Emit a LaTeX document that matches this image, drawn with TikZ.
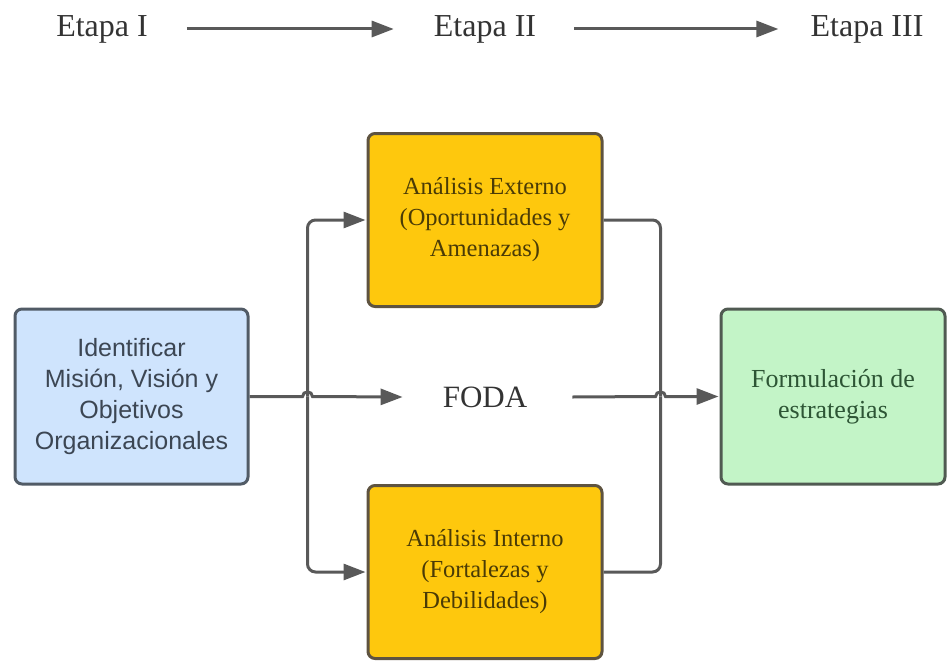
\documentclass[tikz,border=0pt]{standalone}
\usepackage{fontspec}
\setmainfont{Liberation Serif}
\newfontfamily\sansf{Liberation Sans}
\usetikzlibrary{arrows.meta,calc}
\definecolor{bluefill}{HTML}{CFE4FD}
\definecolor{blueline}{HTML}{515B66}
\definecolor{bluetext}{HTML}{3C4653}
\definecolor{yelfill}{HTML}{FEC80D}
\definecolor{yelline}{HTML}{5E5340}
\definecolor{yeltext}{HTML}{4A3B06}
\definecolor{grnfill}{HTML}{C3F4C7}
\definecolor{grnline}{HTML}{505A52}
\definecolor{grntext}{HTML}{2D5535}
\definecolor{connc}{HTML}{595959}
\definecolor{txtc}{HTML}{333333}
\begin{document}
\begin{tikzpicture}[x=1pt,y=-1pt,
  box/.style={draw, line width=3pt, rounded corners=7pt, align=center, inner sep=0pt},
  bluebox/.style={box, draw=blueline, fill=bluefill, text=bluetext,
    font=\sansf\fontsize{25}{31}\selectfont, minimum width=233pt, minimum height=175pt},
  yelbox/.style={box, draw=yelline, fill=yelfill, text=yeltext,
    font=\fontsize{24.5}{31}\selectfont, minimum width=234pt, minimum height=173pt},
  grnbox/.style={box, draw=grnline, fill=grnfill, text=grntext,
    font=\fontsize{26}{31}\selectfont, minimum width=224pt, minimum height=175pt},
  etapa/.style={text=txtc, font=\fontsize{32}{36}\selectfont, inner sep=0pt},
  conn/.style={draw=connc, line width=3pt},
  tip/.style={-{Triangle[length=22pt,width=16pt]}},
]
\useasboundingbox (0,0) rectangle (949,661);

% stage headers
\node[etapa] (e1) at (102,29) {Etapa I};
\node[etapa] (e2) at (485,29) {Etapa II};
\node[etapa] (e3) at (867,29) {Etapa III};
\draw[conn,tip] ($(e1.east)+(39,0)$) -- ($(e2.west)+(-40,0)$);
\draw[conn,tip] ($(e2.east)+(38,0)$) -- ($(e3.west)+(-32,0)$);

% boxes
\node[bluebox] (blue) at (131.5,396.5) {Identificar\\Misión, Visión y\\Objetivos\\Organizacionales};
\node[yelbox] (ext) at (485,220) {Análisis Externo\\(Oportunidades y\\Amenazas)};
\node[yelbox] (int) at (485,572) {Análisis Interno\\(Fortalezas y\\Debilidades)};
\node[grnbox] (grn) at (833,396.5) {Formulación de\\estrategias};
\node[text=txtc, font=\fontsize{31}{36}\selectfont, inner sep=0pt] (foda) at (485,397) {FODA};

% junction points
\coordinate (jl) at ($(blue.east)+(58,0)$);
\coordinate (jr) at ($(ext.east)+(57,0)$);

% left side
\draw[conn,tip,rounded corners=8pt] (jl) -- (jl |- ext.west) -- ($(ext.west)+(-1,0)$);
\draw[conn,tip,rounded corners=8pt] (jl) -- (jl |- int.west) -- ($(int.west)+(-1,0)$);
\draw[conn,tip] (blue.east) -- ($(jl)+(-5,0)$)
   .. controls ($(jl)+(-5,-6)$) and ($(jl)+(5,-6)$) .. ($(jl)+(5,0)$)
   -- ($(foda.west)+(-40,0)$);

% right side
\draw[conn,rounded corners=8pt] (ext.east) -- (jr) -- (jr |- grn.west);
\draw[conn,rounded corners=8pt] (int.east) -- (jr |- int.east) -- (jr |- grn.west);
\draw[conn,tip] ($(foda.east)+(45,0)$) -- ($(jr |- grn.west)+(-5,0)$)
   .. controls ($(jr |- grn.west)+(-5,-6)$) and ($(jr |- grn.west)+(5,-6)$) .. ($(jr |- grn.west)+(5,0)$)
   -- ($(grn.west)+(-1,0)$);
\end{tikzpicture}
\end{document}
